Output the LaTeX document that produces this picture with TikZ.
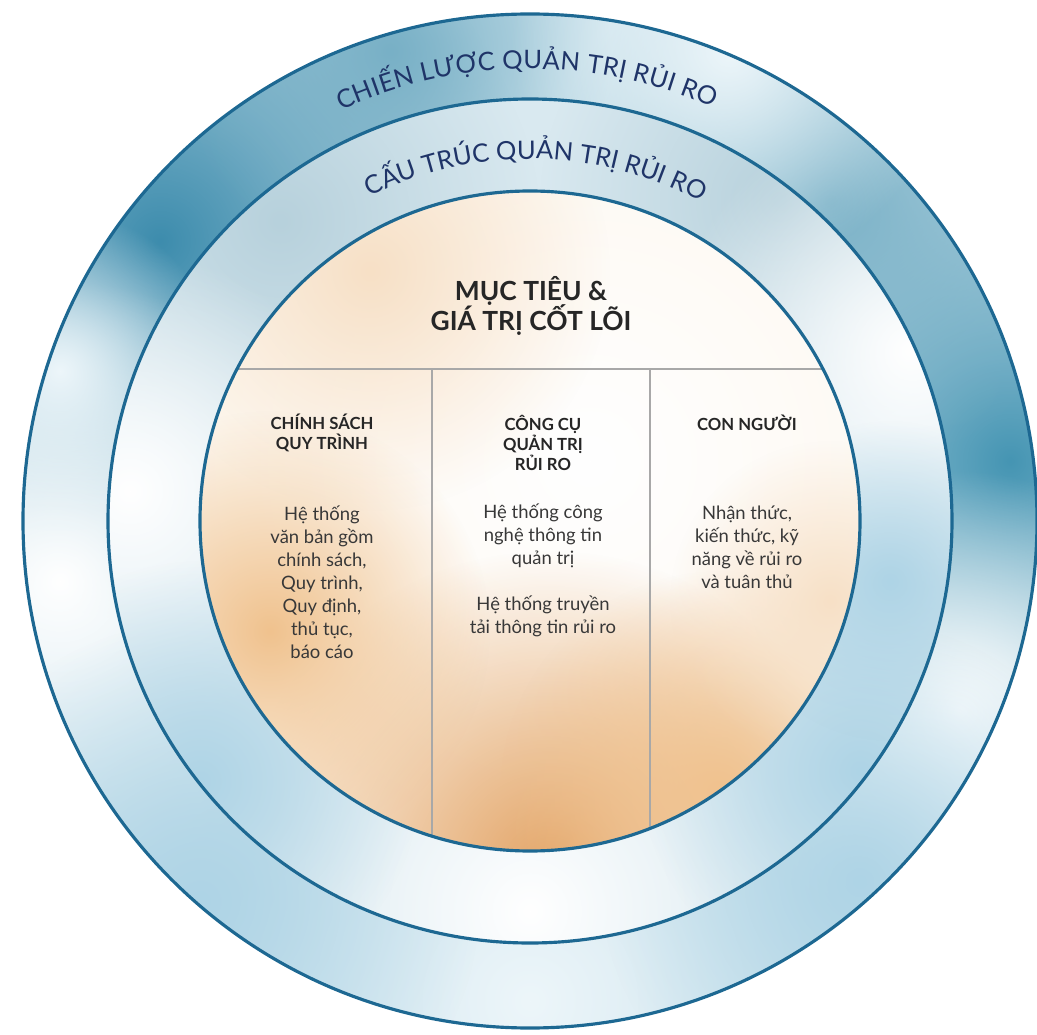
\documentclass[tikz,border=0pt]{standalone}
\usepackage{fontspec}
\setmainfont{Lato}
\usetikzlibrary{decorations.text,fadings}

\definecolor{ringline}{HTML}{1D6892}
\definecolor{ringtext}{HTML}{1F3468}
\definecolor{bodytext}{HTML}{383838}
\definecolor{colline}{HTML}{A8A8A8}
\definecolor{outerbase}{HTML}{C9E1EB}
\definecolor{middlebase}{HTML}{D9E9F0}
\definecolor{innerbase}{HTML}{FDF6EC}
\definecolor{tealdark}{HTML}{3D8CAD}
\definecolor{tealmid}{HTML}{4595B3}
\definecolor{teallight}{HTML}{78B0C6}
\definecolor{greyteal}{HTML}{B7D1DC}
\definecolor{skyblue}{HTML}{AED4E6}
\definecolor{paleblue}{HTML}{EDF6FA}
\definecolor{orangeglow}{HTML}{E3A466}
\definecolor{orangesoft}{HTML}{F0C28E}
\definecolor{peach}{HTML}{F7E0C6}
\tikzfading[name=blobfade, inner color=transparent!0, outer color=transparent!100]

\begin{document}
\begin{tikzpicture}[x=0.02cm,y=0.02cm,
  ring/.style={draw=ringline, line width=1.8pt},
  blob/.style={fill=#1, path fading=blobfade},
  divline/.style={draw=colline, line width=0.9pt},
  title/.style={font=\bfseries\fontsize{15}{17.6}\selectfont, text=black!85, align=center, inner sep=0pt},
  head/.style={font=\bfseries\fontsize{9.5}{11.4}\selectfont, text=black!85, align=center, inner sep=0pt},
  body/.style={font=\fontsize{10.5}{13.1}\selectfont, text=bodytext, align=center, inner sep=0pt},
  arctext/.style={decorate, decoration={text along path, text align={fit to path},
    text color=ringtext, text={|\fontsize{14.5}{16}\selectfont|#1}}}]
\useasboundingbox (-530,-513) rectangle (507,521);
%---outer ring-------------------------------------------
\begin{scope}
  \clip (0,0) circle (507);
  \fill[outerbase] (0,0) circle (507);
  \foreach \x/\y/\r/\c in {-370/280/380/tealdark, 480/60/300/tealmid, 300/320/280/teallight,
      -140/470/220/teallight, -470/-60/300/white, 430/-190/240/white, 0/-480/320/paleblue,
      -330/-380/280/skyblue, 200/470/220/paleblue, 330/-360/260/skyblue, -470/150/160/paleblue}
    \fill[blob=\c] (\x,\y) circle (\r);
\end{scope}
%---middle ring-------------------------------------------
\begin{scope}
  \clip (0,0) circle (422);
  \fill[middlebase] (0,0) circle (422);
  \foreach \x/\y/\r/\c in {-250/300/260/greyteal, 250/320/240/greyteal, -400/30/240/white,
      380/170/240/white, 0/-390/280/white, -330/-260/220/skyblue, 330/-250/220/skyblue,
      360/-60/160/skyblue}
    \fill[blob=\c] (\x,\y) circle (\r);
\end{scope}
%---inner disk-------------------------------------------
\begin{scope}
  \clip (0,0) circle (330);
  \fill[innerbase] (0,0) circle (330);
  \foreach \x/\y/\r/\c in {60/60/480/white, -160/250/240/peach, 20/-350/320/orangeglow,
      -260/-110/220/orangesoft, 190/-270/220/orangesoft, 300/-80/160/peach}
    \fill[blob=\c] (\x,\y) circle (\r);
  \draw[divline] (-330,152) -- (330,152);
  \draw[divline] (-98,152) -- (-98,-340);
  \draw[divline] (120,152) -- (120,-340);
\end{scope}
\draw[ring] (0,0) circle (507);
\draw[ring] (0,0) circle (422);
\draw[ring] (0,0) circle (330);
%---ring text---------------------------------------------
\path[arctext=CHIẾN LƯỢC QUẢN TRỊ RỦI RO] (114.7:452) arc[start angle=114.7, end angle=66.1, radius=452];
\path[arctext=CẤU TRÚC QUẢN TRỊ RỦI RO] (116.3:362) arc[start angle=116.3, end angle=62.5, radius=362];
%---columns-----------------------------------------------
\node[title] (goal) at (1,215) {MỤC TIÊU \&\\GIÁ TRỊ CỐT LÕI};
\node[head] (policyhead) at (-208,88) {CHÍNH SÁCH\\QUY TRÌNH};
\node[head] (toolhead) at (13,78) {CÔNG CỤ\\QUẢN TRỊ\\RỦI RO};
\node[head] (peoplehead) at (217,98) {CON NGƯỜI};
\node[body] (policybody) at (-208,-61) {Hệ thống\\văn bản gồm\\chính sách,\\Quy trình,\\Quy định,\\thủ tục,\\báo cáo};
\node[body] (toolbody) at (13,-49.5) {Hệ thống công\\nghệ thông tin\\quản trị\\[13.1pt]Hệ thống truyền\\tải thông tin rủi ro};
\node[body] (peoplebody) at (217,-26.5) {Nhận thức,\\kiến thức, kỹ\\năng về rủi ro\\và tuân thủ};
\end{tikzpicture}
\end{document}
